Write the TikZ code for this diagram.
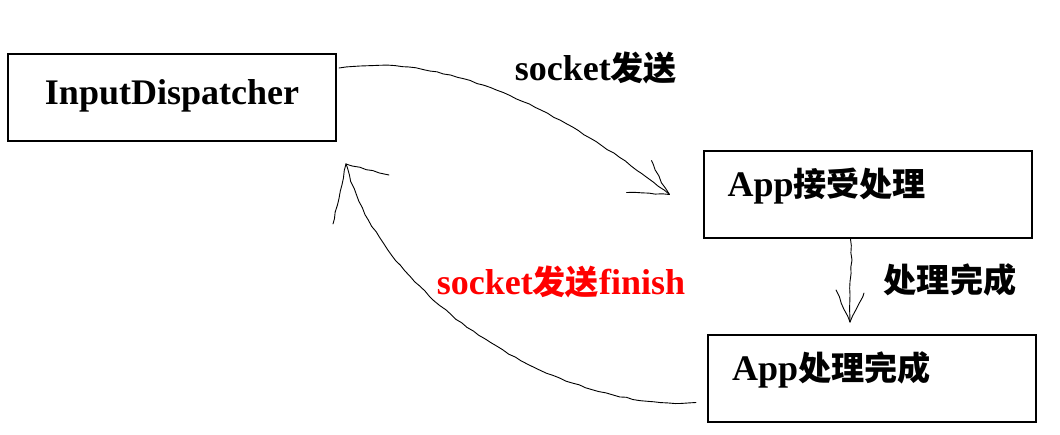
\documentclass[tikz,border=0pt]{standalone}
\usepackage{fontspec}
\setmainfont{Liberation Serif}
\newfontfamily\zhfont[Scale=0.92]{Noto Sans CJK SC}
\newcommand{\zh}[1]{{\zhfont #1}}
\usepackage{xcolor}
\usetikzlibrary{positioning,decorations.pathmorphing}
\definecolor{labelred}{RGB}{255,0,0}
\definecolor{lineblack}{RGB}{0,0,0}
\pgfmathsetseed{11}

\begin{document}
\begin{tikzpicture}[x=1pt, y=-1pt, font=\fontsize{36}{40}\selectfont\bfseries,
  boxnode/.style={rectangle, draw=lineblack, line width=2pt, minimum height=87pt},
  sidebox/.style={boxnode, text width=280pt, align=left, inner xsep=24pt, text height=26pt, text depth=22pt},
  pen/.style={draw=lineblack, line width=0.9pt, line join=round, line cap=round,
    decorate, decoration={random steps, segment length=7pt, amplitude=0.6pt}}]
\useasboundingbox (0,0) rectangle (1060,434);

\node[boxnode, minimum width=328pt, text height=26pt, text depth=12pt] (disp) at (172,97.5) {InputDispatcher};
\node[sidebox] (recv) at (867.5,194.5) {App\zh{接受处理}};
\node[sidebox, below=95pt of recv, xshift=4.5pt] (done) {App\zh{处理完成}};

% free ends of the hand drawn arrows
\coordinate (tip1) at ([xshift=-33pt]recv.west);
\coordinate (tip2) at ([xshift=-22pt,yshift=12pt]done.north);
\coordinate (tip3) at ([xshift=9pt,yshift=-22pt]disp.south east);

\draw[pen] ([xshift=2pt,yshift=-15pt]disp.north east) .. controls (450,52) and (565,112) .. (tip1);
\draw[pen] (tip1) -- ++(-43,-2);
\draw[pen] (tip1) .. controls ++(-8,-12) .. ++(-18,-34);
\node at (596,68) {socket\zh{发送}};

\draw[pen] ([xshift=-17pt]recv.south) .. controls +(3,30) and +(-2,-30) .. (tip2);
\draw[pen] (tip2) -- ++(-14,-32);
\draw[pen] (tip2) -- ++(14,-29);
\node at (950,280) {\zh{处理完成}};

\draw[pen] ([xshift=-11pt,yshift=-24pt]done.west) .. controls (560,412) and (380,300) .. (tip3);
\draw[pen] (tip3) -- ++(-13,60);
\draw[pen] (tip3) -- ++(43,11);
\node[text=labelred] at (561,282) {socket\zh{发送}finish};
\end{tikzpicture}
\end{document}
